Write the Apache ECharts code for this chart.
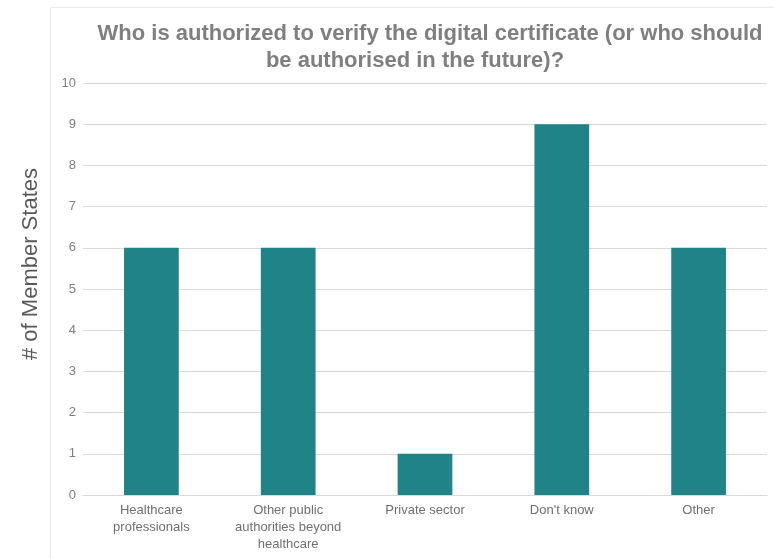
<!DOCTYPE html>
<html>
<head>
<meta charset="utf-8">
<script src="https://cdn.jsdelivr.net/npm/echarts@6/dist/echarts.min.js"></script>
<style>
  html, body { margin: 0; padding: 0; background: #fff; }
  #chart { width: 774px; height: 559px; }
</style>
</head>
<body>
<div id="chart"></div>
<script>
// Survey answers: who may verify the digital certificate
const categories = [
  'Healthcare\nprofessionals',
  'Other public\nauthorities beyond\nhealthcare',
  'Private sector',
  "Don't know",
  'Other'
];
const memberStates = [6, 6, 1, 9, 6];
const titleLines = [
  'Who is authorized to verify the digital certificate (or who should',
  'be authorised in the future)?'
];
const yAxisTitle = '# of Member States';

const FONT = 'Liberation Sans, Arial, sans-serif';
const chart = echarts.init(document.getElementById('chart'), null, { renderer: 'canvas' });

const titleStyle = {
  fontFamily: FONT,
  fontSize: 22,
  fontWeight: 'bold',
  color: '#7f7f7f'
};

chart.setOption({
  backgroundColor: '#ffffff',
  animation: false,
  graphic: [
    {
      type: 'rect',
      shape: { x: 50.5, y: 7.5, width: 740, height: 560 },
      style: { fill: 'none', stroke: '#ececec', lineWidth: 1 },
      silent: true,
      z: -1
    },
    {
      type: 'text',
      x: 31,
      y: 264,
      rotation: Math.PI / 2,
      style: {
        text: yAxisTitle,
        fontFamily: FONT,
        fontSize: 22,
        fill: '#595959',
        align: 'center',
        verticalAlign: 'middle'
      },
      silent: true
    }
  ],
  title: [
    { text: titleLines[0], left: 425, top: 18, textAlign: 'center', textStyle: titleStyle },
    { text: titleLines[1], left: 410, top: 45, textAlign: 'center', textStyle: titleStyle }
  ],
  grid: { left: 83, right: 7, top: 83, bottom: 64, containLabel: false },
  xAxis: {
    type: 'category',
    data: categories,
    axisLine: { show: true, lineStyle: { color: '#d9d9d9', width: 1 } },
    axisTick: { show: false },
    axisLabel: {
      interval: 0,
      margin: 7,
      fontFamily: FONT,
      fontSize: 13,
      lineHeight: 17,
      color: '#6f6f6f'
    }
  },
  yAxis: {
    type: 'value',
    min: 0,
    max: 10,
    interval: 1,
    axisLine: { show: false },
    axisTick: { show: false },
    axisLabel: {
      margin: 7,
      fontFamily: FONT,
      fontSize: 13,
      color: '#7f7f7f'
    },
    splitLine: { lineStyle: { color: '#d9d9d9', width: 1 } }
  },
  series: [{
    type: 'bar',
    data: memberStates,
    barWidth: '40%',
    itemStyle: { color: '#1f8387' }
  }]
});
</script>
</body>
</html>
